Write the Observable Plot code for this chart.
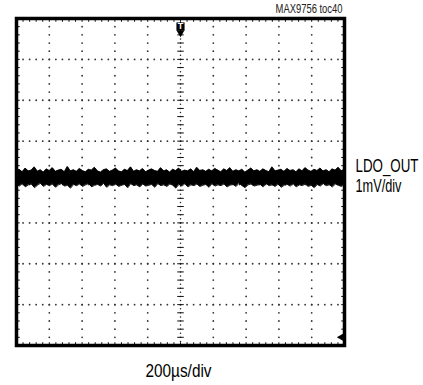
<!DOCTYPE html>
<html><head><meta charset="utf-8">
<script src="https://cdn.jsdelivr.net/npm/d3@7"></script>
<script src="https://cdn.jsdelivr.net/npm/@observablehq/plot@0.6"></script>
<style>
html,body{margin:0;padding:0;background:#fff;}
#chart svg{display:block;overflow:visible;}
</style>
</head><body><div id="chart"></div>
<script>
// Scope screen: 10 horizontal x 8 vertical divisions
const xDivisions = 10;
const yDivisions = 8;
const minorPerDiv = 5;
// Labels
const chartId = "MAX9756 toc40";
const channelName = "LDO_OUT";
const channelScale = "1mV/div";
const timeLabel = "200µs/div";
// LDO_OUT noise band, upper and lower envelope (mV = divisions, relative to screen centre)
const traceHigh = [
0.27,0.30,0.24,0.33,0.26,0.28,0.36,0.25,0.29,0.23,0.31,0.27,0.34,0.25,0.28,0.30,0.24,0.37,0.26,0.29,
0.25,0.32,0.27,0.24,0.30,0.28,0.35,0.26,0.23,0.29,0.31,0.25,0.28,0.33,0.26,0.24,0.30,0.27,0.36,0.25,
0.29,0.26,0.32,0.24,0.28,0.31,0.27,0.25,0.34,0.26,0.29,0.23,0.30,0.27,0.33,0.25,0.28,0.26,0.31,0.24,
0.35,0.27,0.29,0.25,0.30,0.26,0.32,0.28,0.24,0.31,0.27,0.34,0.25,0.29,0.26,0.30,0.23,0.28,0.33,0.26,
0.29,0.25,0.31,0.27,0.24,0.36,0.26,0.28,0.30,0.25,0.32,0.27,0.29,0.24,0.31,0.26,0.34,0.28,0.25,0.30,
0.27,0.33,0.26,0.29,0.24,0.31,0.28,0.35,0.26,0.30
];
const traceLow = [
-0.06,-0.10,-0.04,-0.12,-0.07,-0.05,-0.14,-0.08,-0.03,-0.11,-0.06,-0.09,-0.05,-0.13,-0.07,-0.04,-0.10,-0.08,-0.15,-0.06,
-0.09,-0.05,-0.11,-0.07,-0.04,-0.12,-0.08,-0.06,-0.10,-0.03,-0.13,-0.07,-0.09,-0.05,-0.11,-0.08,-0.06,-0.14,-0.04,-0.09,
-0.07,-0.12,-0.05,-0.10,-0.08,-0.06,-0.13,-0.04,-0.09,-0.07,-0.11,-0.05,-0.08,-0.15,-0.06,-0.10,-0.04,-0.12,-0.07,-0.09,
-0.05,-0.11,-0.08,-0.06,-0.13,-0.04,-0.10,-0.07,-0.09,-0.05,-0.12,-0.08,-0.06,-0.11,-0.03,-0.09,-0.14,-0.07,-0.05,-0.10,
-0.08,-0.06,-0.12,-0.04,-0.09,-0.07,-0.11,-0.05,-0.13,-0.08,-0.06,-0.10,-0.04,-0.12,-0.07,-0.09,-0.05,-0.11,-0.08,-0.14,
-0.06,-0.10,-0.04,-0.09,-0.07,-0.12,-0.05,-0.08,-0.11,-0.06
];
// Trigger marker (top, at time centre) and reference marker (bottom right)
const triggerX = [5];
const refMarker = [{x: 10, y: -3.8}];

const yHalf = yDivisions / 2;
const n = traceHigh.length;
const trace = traceHigh.map((h, i) => ({t: i * xDivisions / (n - 1), hi: h, lo: traceLow[i]}));
const minorX = d3.range(0, xDivisions * minorPerDiv + 1).map(i => i / minorPerDiv);
const minorY = d3.range(0, yDivisions * minorPerDiv + 1).map(i => -yHalf + i / minorPerDiv);
const majorX = d3.range(1, xDivisions).filter(v => v !== xDivisions / 2);
const majorY = d3.range(-yHalf + 1, yHalf).filter(v => v !== 0);
const gridDots = [];
for (const gx of majorX) for (const y of minorY) gridDots.push({x: gx, y});
for (const gy of majorY) for (const x of minorX) gridDots.push({x, y: gy});
const cx = xDivisions / 2;
const centerDots = [];
for (let i = 0; i <= yDivisions * minorPerDiv * 2; i++) centerDots.push({x: cx, y: -yHalf + i / (minorPerDiv * 2)});
for (let i = 0; i <= xDivisions * minorPerDiv * 2; i++) centerDots.push({x: i / (minorPerDiv * 2), y: 0});

const tx = 0.1, ty = 0.08; // tick half-lengths in divisions
const font = '"Liberation Sans",Arial,sans-serif';

const chart = Plot.plot({
  width: 423, height: 385,
  marginLeft: 16, marginRight: 79, marginTop: 18, marginBottom: 40,
  style: {fontFamily: font, background: "#fff", color: "#000"},
  x: {domain: [0, xDivisions], axis: null},
  y: {domain: [-yHalf, yHalf], axis: null},
  marks: [
    Plot.dot(gridDots, {x: "x", y: "y", r: 0.9, fill: "#333", stroke: null}),
    Plot.dot(centerDots, {x: "x", y: "y", r: 0.75, fill: "#222", stroke: null}),
    // cross ticks on centre axes
    Plot.link(minorY, {x1: cx - tx, x2: cx + tx, y1: d => d, y2: d => d, stroke: "#111", strokeWidth: 1}),
    Plot.link(minorX, {x1: d => d, x2: d => d, y1: -ty, y2: ty, stroke: "#111", strokeWidth: 1}),
    // border ticks
    Plot.link(minorX, {x1: d => d, x2: d => d, y1: yHalf, y2: yHalf - ty, stroke: "#111", strokeWidth: 1}),
    Plot.link(minorX, {x1: d => d, x2: d => d, y1: -yHalf, y2: -yHalf + ty, stroke: "#111", strokeWidth: 1}),
    Plot.link(minorY, {x1: 0, x2: tx, y1: d => d, y2: d => d, stroke: "#111", strokeWidth: 1}),
    Plot.link(minorY, {x1: xDivisions, x2: xDivisions - tx, y1: d => d, y2: d => d, stroke: "#111", strokeWidth: 1}),
    // noise trace band
    Plot.areaY(trace, {x: "t", y1: "lo", y2: "hi", fill: "#000", stroke: "#000", strokeWidth: 0.8}),
    Plot.line(trace, {x: "t", y: "hi", stroke: "#000", strokeWidth: 0.8}),
    Plot.line(trace, {x: "t", y: "lo", stroke: "#000", strokeWidth: 0.8}),
    // trigger marker
    Plot.dot(triggerX, {x: d => d, y: yHalf, dy: 8, symbol: "square", r: 4.6, fill: "#000", stroke: null}),
    Plot.dot(triggerX, {x: d => d, y: yHalf, dy: 14, symbol: "triangle", rotate: 180, r: 3, fill: "#000", stroke: null}),
    Plot.text(triggerX, {x: d => d, y: yHalf, dy: 8, text: () => "T", fill: "#fff", fontSize: 9, fontWeight: "bold", lineAnchor: "middle"}),
    Plot.dot(refMarker, {x: "x", y: "y", dx: -3, symbol: "triangle", rotate: -90, r: 3, fill: "#000", stroke: null}),
    Plot.frame({stroke: "#000", strokeWidth: 3.5}),
    // labels
    Plot.text([chartId], {frameAnchor: "top-right", text: d => d, dx: -2, dy: -9, lineAnchor: "middle", textAnchor: "end", fontSize: 12, fill: "#222", className: "lbl-id"}),
    Plot.text([channelName], {frameAnchor: "right", text: d => d, dx: 11, dy: -15.5, lineAnchor: "middle", textAnchor: "start", fontSize: 18, fill: "#000", className: "lbl-ch"}),
    Plot.text([channelScale], {frameAnchor: "right", text: d => d, dx: 11, dy: 4.5, lineAnchor: "middle", textAnchor: "start", fontSize: 18, fill: "#000", className: "lbl-sc"}),
    Plot.text([timeLabel], {frameAnchor: "bottom", text: d => d, dx: -2, dy: 26, lineAnchor: "middle", fontSize: 18, fill: "#000", className: "lbl-t"})
  ]
});
document.getElementById("chart").appendChild(chart);
// condense the text horizontally to match the narrow face of the original
const widths = {"lbl-id": 67, "lbl-ch": 63, "lbl-sc": 46, "lbl-t": 66};
for (const [cls, w] of Object.entries(widths)) {
  chart.querySelectorAll("g." + cls + " text").forEach(t => {
    const natural = t.getComputedTextLength();
    const sx = natural > 0 ? w / natural : 1;
    const tr = t.getAttribute("transform") || "";
    t.setAttribute("transform", tr + " scale(" + sx.toFixed(4) + ",1)");
  });
}
</script>
</body></html>
